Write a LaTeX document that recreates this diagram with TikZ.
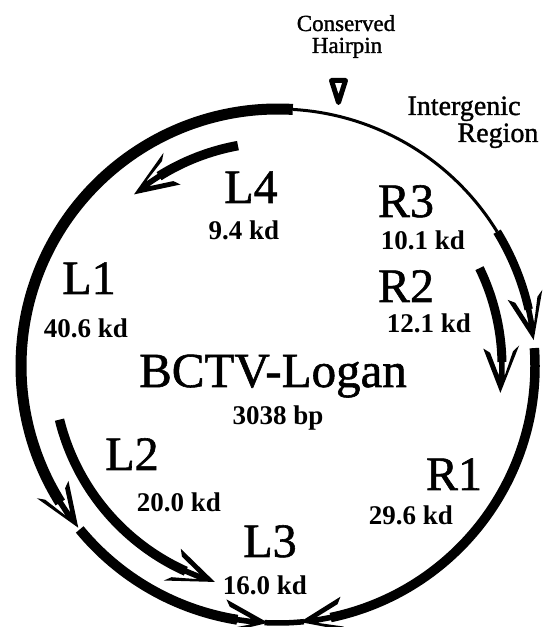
\documentclass[tikz,border=0pt]{standalone}
\usepackage{fontspec}
\setmainfont{Liberation Serif}
\newfontfamily\heavyserif{Liberation Serif}[BoldFont=Liberation Serif, BoldFeatures={FakeBold=1.2}]
\newcommand\fsz[1]{\fontsize{#1}{#1}\selectfont}
% Gene arc on a circle of radius #1 from angle #2 to the arrow tip at angle #3,
% drawn with line width #4 and finished by a barbed arrowhead.
\newcommand\genearc[4]{%
  \pgfmathsetmacro\gs{sign(#3-(#2))}%
  \pgfmathsetmacro\gk{57.29578/#1}%
  \pgfmathsetmacro\gaL{#3-\gs*46*\gk}%
  \pgfmathsetmacro\gaC{#3-\gs*41*\gk}%
  \pgfmathsetmacro\gaD{#3-\gs*17*\gk}%
  \pgfmathsetmacro\gaE{#3-\gs*31*\gk}%
  \pgfmathsetmacro\gaF{#3-\gs*33*\gk}%
  \pgfmathsetmacro\gro{#1+18}\pgfmathsetmacro\gri{#1-18}%
  \pgfmathsetmacro\gco{#1+11.5}\pgfmathsetmacro\gci{#1-11.5}%
  \pgfmathsetmacro\gso{#1+2.8}\pgfmathsetmacro\gsi{#1-2.8}%
  \draw[line width=#4] (#2:#1) arc[start angle=#2, end angle=\gaE, radius=#1];
  \fill (#3:#1) -- (\gaL:\gro) -- (\gaC:\gco) -- (\gaD:\gso) -- (\gaF:\gso)
        -- (\gaF:\gsi) -- (\gaD:\gsi) -- (\gaC:\gci) -- (\gaL:\gri) -- cycle;
}
\begin{document}
\begin{tikzpicture}[x=1pt, y=1pt,
  gname/.style={anchor=base, inner sep=0pt, font=\heavyserif\bfseries\fsz{48}},
  kd/.style={anchor=base, inner sep=0pt, font=\fsz{27}\bfseries},
  note/.style={anchor=base, inner sep=0pt, font=\heavyserif\bfseries\fsz{23}},
  region/.style={anchor=base, inner sep=0pt, font=\heavyserif\bfseries\fsz{28}},
  title/.style={anchor=base, inner sep=0pt, font=\heavyserif\bfseries\fsz{49}}]
\useasboundingbox (0,0) rectangle (545,627);
\fill[white] (0,0) rectangle (545,627);

\coordinate (O) at (278,261);

\begin{scope}[shift={(O)}]
  % thin intergenic stretch of the genome circle
  \draw[line width=3pt] (86.7:257) arc[start angle=86.7, end angle=31.5, radius=257];
  % genes on the outer circle
  \genearc{257}{86.7}{219}{11pt}     % L1
  \genearc{257}{219.5}{267.8}{10pt}  % L3
  \genearc{257}{31.5}{5.8}{8.5pt}    % R3
  \genearc{257}{4}{-85.1}{9.5pt}     % R1
  \draw[line width=5.5pt] (267:257) arc[start angle=267, end angle=275.8, radius=257];
  % genes on the inner circle
  \genearc{224}{100.3}{130}{9.5pt}   % L4
  \genearc{224}{25.9}{-6.9}{9pt}     % R2
  \genearc{225}{193.8}{253.7}{9.5pt} % L2
\end{scope}

% conserved hairpin marker
\draw[line width=5pt, line join=round] (331.5,546.5) -- (345.5,546.5) -- (338.5,524.5) -- cycle;

\node[note] (cons) at (346,596) {Conserved};
\node[note] (hair) at (347,574) {Hairpin};
\node[region] (inter) at (464,512) {Intergenic};
\node[region] (reg) at (498,485) {Region};

\node[gname] (L4) at (251,424) {L4};
\node[kd] (L4m) at (244,387) {9.4 kd};
\node[gname] (R3) at (406,410) {R3};
\node[kd] (R3m) at (423,377) {10.1 kd};
\node[gname] (L1) at (89,333) {L1};
\node[kd] (L1m) at (86,289) {40.6 kd};
\node[gname] (R2) at (406,325) {R2};
\node[kd] (R2m) at (429,294) {12.1 kd};
\node[title] (name) at (273,240) {BCTV-Logan};
\node[kd] (size) at (278,202) {3038 bp};
\node[gname] (L2) at (132,157) {L2};
\node[kd] (L2m) at (179,115) {20.0 kd};
\node[gname] (R1) at (454,137) {R1};
\node[kd] (R1m) at (411,102) {29.6 kd};
\node[gname] (L3) at (270,70) {L3};
\node[kd] (L3m) at (265,32) {16.0 kd};
\end{tikzpicture}
\end{document}
